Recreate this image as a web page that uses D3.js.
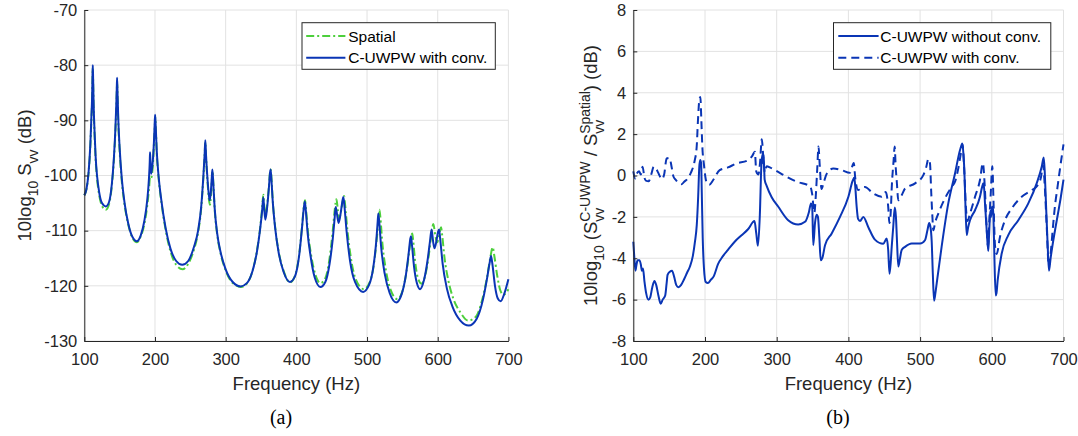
<!DOCTYPE html>
<html><head><meta charset="utf-8">
<script src="https://cdn.jsdelivr.net/npm/d3@7"></script>
<style>body{margin:0;background:#fff} svg{display:block}</style>
</head><body><svg id="c" width="1078" height="436"></svg>
<script>
const xTicks=[100,200,300,400,500,600,700];
const leftYTicks=[-130,-120,-110,-100,-90,-80,-70];
const rightYTicks=[-8,-6,-4,-2,0,2,4,6,8];

// (a) 10log10 Svv, Spatial
const spatial=[[100,-103.6],[103,-102.5],[106,-99.6],[108.5,-94.8],[110,-90],[111,-86.5],[111.6,-82.5],[112,-80.5],[112.5,-83],[113.2,-87.5],[114.5,-92.5],[116,-97],[118,-100.5],[121,-103.5],[125,-105.5],[130.5,-106.2],[135,-105.2],[139,-101.8],[142,-97],[144,-92],[145.3,-87.5],[146,-84.5],[146.4,-83],[147,-85.5],[148,-90],[150,-95.5],[153,-101],[157,-105.3],[162,-108.8],[168,-111.3],[174.5,-112.1],[180,-111],[185,-108.8],[189,-105.5],[191.5,-102.5],[193,-100.3],[194.3,-100.5],[196.5,-99],[198.5,-94.5],[199.8,-91],[200.4,-89.5],[201.2,-91.5],[202.5,-95.8],[205,-100.3],[209,-104.8],[215,-109.8],[222,-113.8],[230,-116.2],[239,-117],[247,-116],[255,-113.5],[261,-110.3],[265.5,-105.8],[268.5,-100.3],[270.3,-96.3],[271.2,-94],[272.3,-96.8],[274.5,-101.5],[276.5,-104.5],[277.8,-105.3],[279.3,-103.5],[280.5,-100.8],[281.4,-99.2],[282.5,-101.3],[284.5,-106.2],[288,-110.7],[293,-114.2],[300,-117.2],[310,-119.5],[322,-120.2],[330,-119.6],[338,-117.3],[344,-113.8],[348.5,-109.8],[351.5,-106],[353.3,-103.5],[354.6,-105.5],[356.2,-107.3],[358.5,-105.6],[361,-102.2],[362.8,-99.4],[363.8,-98.9],[364.8,-100.4],[366.5,-104.3],[370,-109.3],[375,-113.8],[382,-117.3],[391,-119.4],[398,-118.2],[404,-114.3],[408,-109.3],[410.5,-105.7],[412.3,-104.5],[413.8,-106.3],[416.5,-110.3],[421,-114.5],[427,-118],[434,-119.5],[441,-118.6],[447,-115],[451.5,-110],[454.5,-106],[456.7,-104.3],[458.5,-106],[460.5,-107.8],[463.5,-106.3],[466,-104.3],[467.5,-103.7],[469,-105.3],[472,-109.6],[477,-114.8],[484,-118.8],[495.5,-120.6],[504,-119.3],[510,-115.8],[514.5,-110.5],[516.5,-107.5],[517.5,-106.2],[518.8,-107.5],[521.5,-112],[526.5,-117],[533,-120.6],[543,-122.4],[550,-121],[556,-117.3],[560.5,-113],[563,-110.8],[564,-110.5],[565.3,-111.8],[568,-115.5],[572,-118.6],[577,-119.6],[582,-118.3],[587,-114.8],[590.5,-111.3],[593.8,-108.8],[596.5,-110.8],[599,-112.1],[601.5,-111.3],[603.5,-109.9],[604.7,-109.4],[606.3,-110.8],[609.5,-114.8],[615,-119],[622,-122.3],[632,-124.8],[643,-126.3],[654,-125.6],[663,-122.5],[670,-118.3],[674.5,-114.8],[677.8,-113],[680,-114.5],[684,-118],[688.5,-120.8],[693,-121.6],[697,-121.2],[700,-120.6]];

// (a) C-UWPW with conv.
const cuwpwConv=[[100,-103.6],[103,-102.5],[106,-99.5],[108.5,-94.5],[110,-89.5],[111,-86],[111.6,-82],[112,-80],[112.5,-82.5],[113.2,-87],[114.5,-92],[116,-96.5],[118,-100],[121,-103],[125,-105],[130.5,-105.6],[135,-104.8],[139,-101.5],[142,-96.5],[144,-91.5],[145.3,-87],[146,-84],[146.4,-82.3],[147,-85],[148,-89.5],[150,-95],[153,-100.5],[157,-105],[162,-108.6],[168,-111.1],[174.5,-111.9],[180,-110.8],[185,-108.2],[189,-104.5],[191.5,-100.5],[192.6,-97.5],[193,-95.8],[193.6,-97.5],[194.6,-99.7],[196.5,-98],[198.5,-94],[199.6,-90.5],[200.2,-89],[201,-91],[202.5,-95.5],[205,-100],[209,-104.5],[215,-109.5],[222,-113.3],[230,-115.5],[238.5,-116.2],[247,-115.5],[255,-113],[261,-110],[265.5,-105.5],[268.5,-100],[270.3,-96],[271.2,-93.6],[272.3,-96.5],[274.5,-101],[276.5,-103.8],[277.5,-104.5],[279,-103],[280.3,-100.5],[281.2,-98.9],[282.3,-101],[284.5,-106],[288,-110.5],[293,-114],[300,-117],[310,-119.3],[321,-120.1],[330,-119.5],[338,-117.3],[344,-114],[348.5,-110],[351.5,-106.5],[353.2,-104],[354.5,-106],[356.2,-108],[358.5,-106],[361,-102.5],[362.8,-99.5],[363.6,-98.9],[364.6,-100.5],[366.5,-104.5],[370,-109.5],[375,-114],[382,-117.5],[391,-119.3],[398,-118.3],[404,-114.5],[408,-109.5],[410.5,-106],[412,-104.7],[413.5,-106.5],[416,-110.5],[420,-114.5],[426,-118.5],[434,-120.2],[441,-119.3],[447,-116],[451.5,-111.5],[454,-108],[455.7,-105.7],[457.5,-107],[459.7,-108.6],[462.5,-107],[465,-104.8],[466.5,-103.9],[468,-105.5],[471,-110],[476,-115.5],[483,-119.3],[494.5,-121.1],[503,-119.8],[509,-116.5],[513,-112],[515,-108.5],[516,-106.9],[517.3,-108.5],[520,-113],[525,-117.8],[532,-121.3],[541.5,-123],[549,-121.5],[555,-118],[559,-114],[561.2,-111.5],[562.2,-111],[563.5,-112.5],[566.5,-116.5],[570.5,-119.5],[575,-120.6],[580.5,-119],[585.5,-115.5],[589,-112],[591.3,-109.8],[593.5,-112],[595.5,-113.2],[598,-112],[600.5,-110.2],[602,-109.8],[603.5,-111.5],[607,-116],[613,-120.5],[621,-123.8],[632,-126.3],[644,-127.2],[655,-126],[664,-122.5],[670,-118.5],[673.5,-115.8],[675.4,-114.6],[677.3,-116],[681,-120],[685,-122.3],[689,-122.8],[694,-121.5],[700,-118.8]];

// (b) ratio, C-UWPW without conv.
const ratioWithout=[[100,-3.2],[101.5,-4.0],[103,-4.6],[104.5,-4.3],[106,-4.1],[108.5,-4.1],[110.5,-4.3],[112,-4.6],[113.5,-4.5],[115.5,-5.1],[118,-5.7],[121,-6.0],[123.5,-5.9],[126.5,-5.4],[129.5,-5.1],[132,-5.3],[135,-5.8],[138.2,-6.2],[141,-6.0],[144.5,-5.8],[146.5,-5.2],[147.8,-4.8],[151,-4.65],[154,-4.6],[157,-4.9],[160,-5.3],[163,-5.4],[166.5,-5.3],[171,-5.0],[175,-4.7],[179,-4.4],[183,-3.9],[186,-3.2],[188.5,-2.4],[190.5,-1.0],[192,0.4],[193.3,0.75],[194.6,0.6],[195.5,-0.8],[196.8,-3.0],[198.6,-4.5],[201,-5.15],[204,-5.2],[208,-5.05],[212.5,-4.85],[218,-4.3],[225,-3.9],[232,-3.6],[241.4,-3.2],[250.6,-2.9],[260,-2.6],[269,-2.2],[271.5,-2.8],[273.8,-3.4],[276.5,-1.9],[278.5,0.4],[279.8,1.0],[280.8,0.6],[281.8,1.0],[283.2,-0.2],[286,-0.5],[293,-1.05],[302,-1.5],[316,-2.16],[330,-2.37],[339.5,-2.24],[345,-1.76],[347.8,-1.35],[349.5,-1.5],[351,-3.37],[353.4,-2.3],[355.8,-1.9],[357.5,-2.0],[359.5,-3.0],[361.4,-4.1],[363.6,-4.0],[367.4,-3.37],[376.7,-2.8],[388.3,-2.0],[400,-1.03],[406,-0.25],[408.2,-0.1],[409.5,-0.5],[411.5,-1.5],[413.5,-2.1],[416.2,-2.2],[420.8,-2.0],[427.8,-2.5],[437,-3.1],[448.7,-3.3],[453.4,-3.05],[455.5,-3.6],[457.3,-4.75],[459,-4.2],[460.4,-3.45],[462.5,-2.5],[464.7,-1.55],[466.3,-2.0],[467.8,-3.2],[469.6,-4.4],[472,-4.0],[474.3,-3.6],[479,-3.45],[488.3,-3.29],[500,-3.29],[506.8,-3.13],[510.5,-2.6],[512.6,-2.3],[514.5,-2.5],[516.2,-3.2],[517.8,-4.8],[519.5,-6.05],[521.3,-5.7],[523.2,-5.2],[530,-3.45],[539.3,-1.35],[548.7,0.1],[555.7,1.23],[558.9,1.55],[560.5,1.0],[561.7,0.26],[563.3,-1.5],[565,-2.88],[567,-2.5],[569.6,-2.16],[576.6,-1.68],[583.5,-1.03],[586.5,-0.55],[588.2,-0.38],[589.5,-0.7],[590.5,-1.35],[592.9,-2.65],[595.1,-3.65],[596.3,-2.8],[597.1,-2.16],[598,-1.7],[599,-2.0],[600.3,-1.5],[601.5,-1.6],[602.3,-2.0],[603.5,-3.77],[605.4,-5.8],[606.5,-5.7],[608.2,-5.06],[613.8,-3.77],[623,-2.88],[637,-2.16],[650.9,-1.35],[662.6,-0.38],[669.6,0.42],[672.4,0.87],[673.8,0.2],[675.2,-1.03],[678,-3.45],[679.8,-4.6],[682,-4.0],[685,-3.3],[688.9,-2.5],[692.5,-1.8],[696,-1.1],[700,-0.2]];

// (b) ratio, C-UWPW with conv.
const ratioWith=[[100,0.2],[102.6,-0.15],[105,0.1],[108,0.2],[110.5,0.05],[113,0.42],[115.5,-0.1],[117.5,-0.25],[121.5,-0.28],[125,0.05],[128.5,0.42],[131.5,0.35],[134.5,0.15],[138,-0.1],[140,-0.18],[143,0.05],[146.5,0.82],[150.5,0.85],[153.5,0.4],[156,-0.05],[159,-0.2],[163,-0.35],[167.5,-0.42],[171,-0.3],[174.5,-0.2],[180.5,0.15],[185.5,0.7],[188.4,1.39],[190.2,2.68],[192.1,3.65],[193.5,3.8],[194.9,2.68],[196.3,1.39],[198.6,0.5],[201.9,-0.3],[206,-0.45],[211.2,-0.23],[220.5,0.26],[232,0.39],[243.7,0.58],[259.9,0.74],[266,0.95],[269.5,1.15],[271.5,0.2],[274.5,0.05],[276.7,0.6],[279.2,1.75],[281.3,0.9],[283.5,0.15],[286,0.45],[291,0.38],[297.6,0.26],[314,-0.06],[328,-0.3],[346.5,-0.52],[349.5,-0.9],[352.5,-1.8],[354.5,-1.0],[356.5,0.3],[358.3,1.4],[360,0.5],[362.5,-0.65],[365,-0.4],[370,0.1],[379,0.34],[390.6,0.26],[402,0.13],[407.5,0.6],[409.5,-0.1],[413.5,-0.7],[418,-0.6],[423,-0.55],[434.7,-0.87],[446.4,-1.03],[452,-0.8],[455.5,-1.5],[457.2,-2.3],[459,-1.8],[460.5,-0.55],[463.2,0.8],[464.5,1.4],[466,0.4],[467.5,-0.3],[469.6,-1.2],[474.3,-0.95],[479,-0.63],[493,-0.38],[504.5,0.02],[508.5,0.4],[511.5,0.8],[513.8,0.58],[515.5,-0.8],[517,-1.9],[518.5,-2.65],[520.8,-2.3],[525.4,-1.84],[534.7,-1.1],[544,-0.55],[548.7,-0.3],[553,0.3],[557,1.1],[559.2,1.5],[561.5,0.3],[564,-1.6],[566,-2.2],[569.6,-1.84],[576.6,-1.03],[583.5,-0.22],[587.5,0.6],[590.3,-0.6],[592.5,-2.3],[594.7,-3.4],[596.5,-2.2],[598.5,-0.9],[600.7,0.45],[602.5,-1.4],[604.5,-3.4],[606.8,-3.8],[611.4,-2.97],[618.4,-2.16],[627.7,-1.6],[641.7,-1.03],[655.6,-0.71],[664,-0.47],[668.5,-0.1],[671.5,0.5],[674,-0.6],[676.5,-2.4],[679.5,-4.4],[682,-3.8],[685,-2.6],[688,-1.5],[691.5,-0.6],[695,0.3],[700,1.5]];

const leftLegendLabels=["Spatial","C-UWPW with conv."];
const rightLegendLabels=["C-UWPW without conv.","C-UWPW with conv."];

const svg=d3.select("#c");
const FONT="'Liberation Sans', Arial, Helvetica, sans-serif";
const SERIF="'Liberation Serif','Times New Roman',serif";
const AX="#262626", GRID="#e2e2e2", BLUE="#0a35b5", GREEN="#4dcf3c";

function panel(x0,x1,y0,y1,yDomain,yTicks){
  const x=d3.scaleLinear([100,700],[x0,x1]);
  const y=d3.scaleLinear(yDomain,[y1,y0]);
  const g=svg.append("g");
  g.append("g").selectAll("line").data(xTicks).join("line")
    .attr("x1",d=>x(d)).attr("x2",d=>x(d)).attr("y1",y0).attr("y2",y1)
    .attr("stroke",GRID).attr("stroke-width",1);
  g.append("g").selectAll("line").data(yTicks).join("line")
    .attr("y1",d=>y(d)).attr("y2",d=>y(d)).attr("x1",x0).attr("x2",x1)
    .attr("stroke",GRID).attr("stroke-width",1);
  return {x,y,g,x0,x1,y0,y1,yTicks};
}
function curve(p,data,color,dash){
  const line=d3.line().x(d=>p.x(d[0])).y(d=>p.y(d[1])).curve(d3.curveMonotoneX);
  p.g.append("path").datum(data).attr("d",line).attr("fill","none")
    .attr("stroke",color).attr("stroke-width",2).attr("stroke-linejoin","round")
    .attr("stroke-dasharray",dash||null);
}
function axes(p){
  const fmt=d=>String(d);
  const bx=p.g.append("g").attr("transform",`translate(0,${p.y1})`)
    .call(d3.axisBottom(p.x).tickValues(xTicks).tickSize(-4).tickSizeOuter(0).tickPadding(12).tickFormat(fmt));
  const ly=p.g.append("g").attr("transform",`translate(${p.x0},0)`)
    .call(d3.axisLeft(p.y).tickValues(p.yTicks).tickSize(-4).tickSizeOuter(0).tickPadding(7).tickFormat(fmt));
  [bx,ly].forEach(a=>{
    a.attr("font-family",FONT).attr("font-size",16.5).style("color",AX);
    a.selectAll("path,line").attr("stroke",AX).attr("stroke-width",1);
  });
}
function legend(x,y,w,h,items,lx0,lx1,tx){
  const g=svg.append("g");
  g.append("rect").attr("x",x).attr("y",y).attr("width",w).attr("height",h)
    .attr("fill","#fff").attr("stroke",AX).attr("stroke-width",1);
  items.forEach((it,i)=>{
    const cy=[36,57.7][i];
    g.append("line").attr("x1",lx0).attr("x2",lx1).attr("y1",cy).attr("y2",cy)
      .attr("stroke",it.color).attr("stroke-width",2).attr("stroke-dasharray",it.dash||null);
    g.append("text").attr("x",tx).attr("y",cy).attr("dominant-baseline","central")
      .attr("font-family",FONT).attr("font-size",15.5).attr("fill","#000").text(it.label);
  });
}
function richLabel(tx,ty,parts){
  const t=svg.append("text").attr("transform",`translate(${tx},${ty}) rotate(-90)`)
    .attr("text-anchor","middle").attr("font-family",FONT).attr("font-size",18.5)
    .attr("fill",AX).style("white-space","pre");
  let cur=0,lastSub=null;
  parts.forEach(([s,k])=>{
    const target=k===1?6.5:(k===2?-7:0);
    const ts=t.append("tspan").text(s).attr("dy",target-cur);
    if(k) ts.attr("font-size",13.9);
    if(k===2&&lastSub) ts.attr("dx",-lastSub.node().getComputedTextLength());
    cur=target; lastSub=(k===1)?ts:null;
  });
}

// Panel (a)
const pa=panel(84.3,508.4,10,341,[-130,-70],leftYTicks);
curve(pa,spatial,GREEN,"8,3,2,3");
curve(pa,cuwpwConv,BLUE);
axes(pa);
legend(302,22.7,193.3,46.6,[
  {label:leftLegendLabels[0],color:GREEN,dash:"8,3,2,3"},
  {label:leftLegendLabels[1],color:BLUE}],306.2,345.4,348.2);
richLabel(31,175.5,[["10log",0],["10",1],[" S",0],["vv",1],[" (dB)",0]]);
svg.append("text").attr("x",(84.3+508.4)/2).attr("y",390).attr("text-anchor","middle")
  .attr("font-family",FONT).attr("font-size",18.5).attr("fill",AX).text("Frequency (Hz)");
svg.append("text").attr("x",281).attr("y",424).attr("text-anchor","middle")
  .attr("font-family",SERIF).attr("font-size",20).attr("fill","#000").text("(a)");

// Panel (b)
const pb=panel(633.3,1063.5,10,341,[-8,8],rightYTicks);
curve(pb,ratioWithout,BLUE);
curve(pb,ratioWith,BLUE,"8,5");
axes(pb);
legend(833.5,22.7,217.3,46.6,[
  {label:rightLegendLabels[0],color:BLUE},
  {label:rightLegendLabels[1],color:BLUE,dash:"8,5"}],838.3,878.6,880.3);
richLabel(597,175.5,[["10log",0],["10",1],[" (S",0],["vv",1],["C-UWPW",2],[" / S",0],["vv",1],["Spatial",2],[") (dB)",0]]);
svg.append("text").attr("x",(633.3+1063.5)/2).attr("y",390).attr("text-anchor","middle")
  .attr("font-family",FONT).attr("font-size",18.5).attr("fill",AX).text("Frequency (Hz)");
svg.append("text").attr("x",838,).attr("y",424).attr("text-anchor","middle")
  .attr("font-family",SERIF).attr("font-size",20).attr("fill","#000").text("(b)");
</script></body></html>
